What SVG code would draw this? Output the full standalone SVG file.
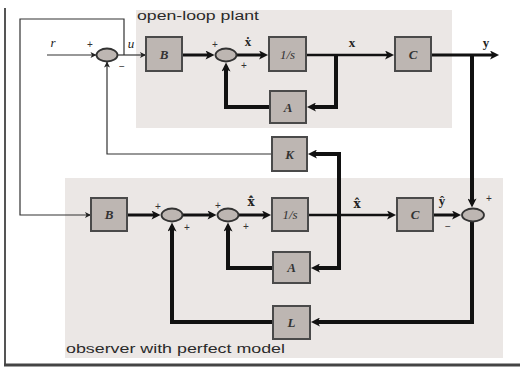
<svg xmlns="http://www.w3.org/2000/svg" width="520" height="368" viewBox="0 0 520 368">
<defs>
<marker id="ah" viewBox="0 0 10 10" refX="5.5" refY="5" markerWidth="11" markerHeight="9" markerUnits="userSpaceOnUse" orient="auto"><path d="M0,0 L10,5 L0,10 L2.5,5 z" fill="#111"/></marker>
<marker id="as" viewBox="0 0 10 10" refX="10" refY="5" markerWidth="8" markerHeight="6" markerUnits="userSpaceOnUse" orient="auto"><path d="M0,0 L10,5 L0,10 L2.5,5 z" fill="#222"/></marker>
<style>
.region{fill:#ebe7e5;stroke:none}
.box rect{fill:#bdb6b2;stroke:#4a4a4a;stroke-width:2}
.box text{font-family:"Liberation Serif","DejaVu Serif",serif;font-style:italic;font-size:13px;fill:#333;text-anchor:middle}
.sum ellipse{fill:#bdb6b2;stroke:#333;stroke-width:1.8}
.thin{fill:none;stroke:#333;stroke-width:1.2;marker-end:url(#as)}
.med{fill:none;stroke:#111;stroke-width:3;marker-end:url(#ah)}
.mid{fill:none;stroke:#111;stroke-width:2.5;marker-end:url(#ah)}
.thick{fill:none;stroke:#111;stroke-width:4;marker-end:url(#ah)}
.sign{font-family:"Liberation Sans","DejaVu Sans",sans-serif;font-size:10px;fill:#333;text-anchor:middle}
.var{font-family:"Liberation Serif","DejaVu Serif",serif;font-size:13px;fill:#222;text-anchor:middle}
.hat{font-family:"DejaVu Serif",serif;font-size:12px;fill:#222;text-anchor:middle;font-weight:bold}
.title{font-family:"Liberation Sans","DejaVu Sans",sans-serif;font-size:12.5px;fill:#2a2a2a}
</style>
</defs>
<rect width="520" height="368" fill="#ffffff"/>
<line x1="5" y1="8" x2="5" y2="366" stroke="#555" stroke-width="2"/>
<line x1="4" y1="365" x2="520" y2="365" stroke="#444" stroke-width="3"/>
<rect class="region" x="136" y="10" width="316" height="118"/>
<rect class="region" x="65" y="178" width="438" height="180"/>
<text class="title" x="137" y="20" textLength="122" lengthAdjust="spacingAndGlyphs">open-loop plant</text>
<text class="title" x="66" y="353" textLength="219" lengthAdjust="spacingAndGlyphs">observer with perfect model</text>

<g id="connectors">
<path class="thin" d="M47,55 H96.5"/>
<path class="thin" d="M117.5,55 H146"/>
<path class="thin" d="M124,55 V19 H20 V215 H91"/>
<path class="thin" d="M272,154 H107 V61.5"/>
<path class="med" d="M182,55 H210.5"/>
<path class="med" d="M236.5,55 H264"/>
<path class="mid" d="M306,55 H390"/>
<path class="med" d="M431,55 H495"/>
<path class="thick" d="M336,55 V107 H311"/>
<path class="thick" d="M270,107 H226 V66.5"/>
<path class="thick" d="M472,55 V203.5"/>
<path class="thick" d="M472,221.5 V322 H315"/>
<path class="thick" d="M273,322 H172 V226.5"/>
<path class="med" d="M127,215 H156.5"/>
<path class="med" d="M182.5,215 H212.5"/>
<path class="med" d="M238.5,215 H267"/>
<path class="mid" d="M308,215 H392"/>
<path class="med" d="M433,215 H457"/>
<path class="thick" d="M339,215 V154 H312"/>
<path class="thick" d="M339,215 V268 H315"/>
<path class="thick" d="M273,268 H228 V226.5"/>
</g>

<g id="sum1" class="sum"><ellipse cx="107" cy="55" rx="10.5" ry="6.5"/></g>
<g id="sum2" class="sum"><ellipse cx="226" cy="55" rx="10.5" ry="6.5"/></g>
<g id="sum3" class="sum"><ellipse cx="172" cy="215" rx="10.5" ry="6.5"/></g>
<g id="sum4" class="sum"><ellipse cx="228" cy="215" rx="10.5" ry="6.5"/></g>
<g id="sum5" class="sum"><ellipse cx="473" cy="215" rx="11" ry="6.5"/></g>

<g id="B" class="box"><rect x="146" y="37" width="36" height="34"/><text x="164" y="59" font-weight="bold">B</text></g>
<g id="integrator" class="box"><rect x="269" y="37" width="37" height="34"/><text x="287.5" y="59">1/s</text></g>
<g id="C" class="box"><rect x="395" y="37" width="36" height="34"/><text x="413" y="59" font-weight="bold">C</text></g>
<g id="A" class="box"><rect x="270" y="91" width="36" height="32"/><text x="288" y="112" font-weight="bold">A</text></g>
<g id="K" class="box"><rect x="272" y="137" width="35" height="34"/><text x="289.5" y="159" font-weight="bold">K</text></g>
<g id="Bobs" class="box"><rect x="91" y="198" width="36" height="33"/><text x="109" y="219" font-weight="bold">B</text></g>
<g id="integratorObs" class="box"><rect x="272" y="198" width="36" height="33"/><text x="290" y="219">1/s</text></g>
<g id="Cobs" class="box"><rect x="397" y="198" width="36" height="33"/><text x="415" y="219" font-weight="bold">C</text></g>
<g id="Aobs" class="box"><rect x="273" y="252" width="37" height="31"/><text x="291.5" y="272" font-weight="bold">A</text></g>
<g id="L" class="box"><rect x="273" y="306" width="37" height="33"/><text x="291.5" y="327" font-weight="bold">L</text></g>

<g id="labels">
<text class="var" x="53" y="47" font-style="italic">r</text>
<text class="var" x="131" y="48" font-style="italic">u</text>
<text class="var" x="248" y="46" font-weight="bold">ẋ</text>
<text class="var" x="352" y="47" font-weight="bold">x</text>
<text class="var" x="486" y="47" font-weight="bold">y</text>
<text class="hat" x="251" y="206">x̂̇</text>
<text class="hat" x="357" y="208">x̂</text>
<text class="var" x="442" y="205" font-weight="bold">ŷ</text>
<text class="sign" x="90" y="48">+</text>
<text class="sign" x="122" y="70">−</text>
<text class="sign" x="215" y="48">+</text>
<text class="sign" x="244" y="69">+</text>
<text class="sign" x="158" y="210">+</text>
<text class="sign" x="187" y="231">+</text>
<text class="sign" x="218" y="209">+</text>
<text class="sign" x="246" y="230">+</text>
<text class="sign" x="489" y="202">+</text>
<text class="sign" x="448" y="230">−</text>
</g>
</svg>
